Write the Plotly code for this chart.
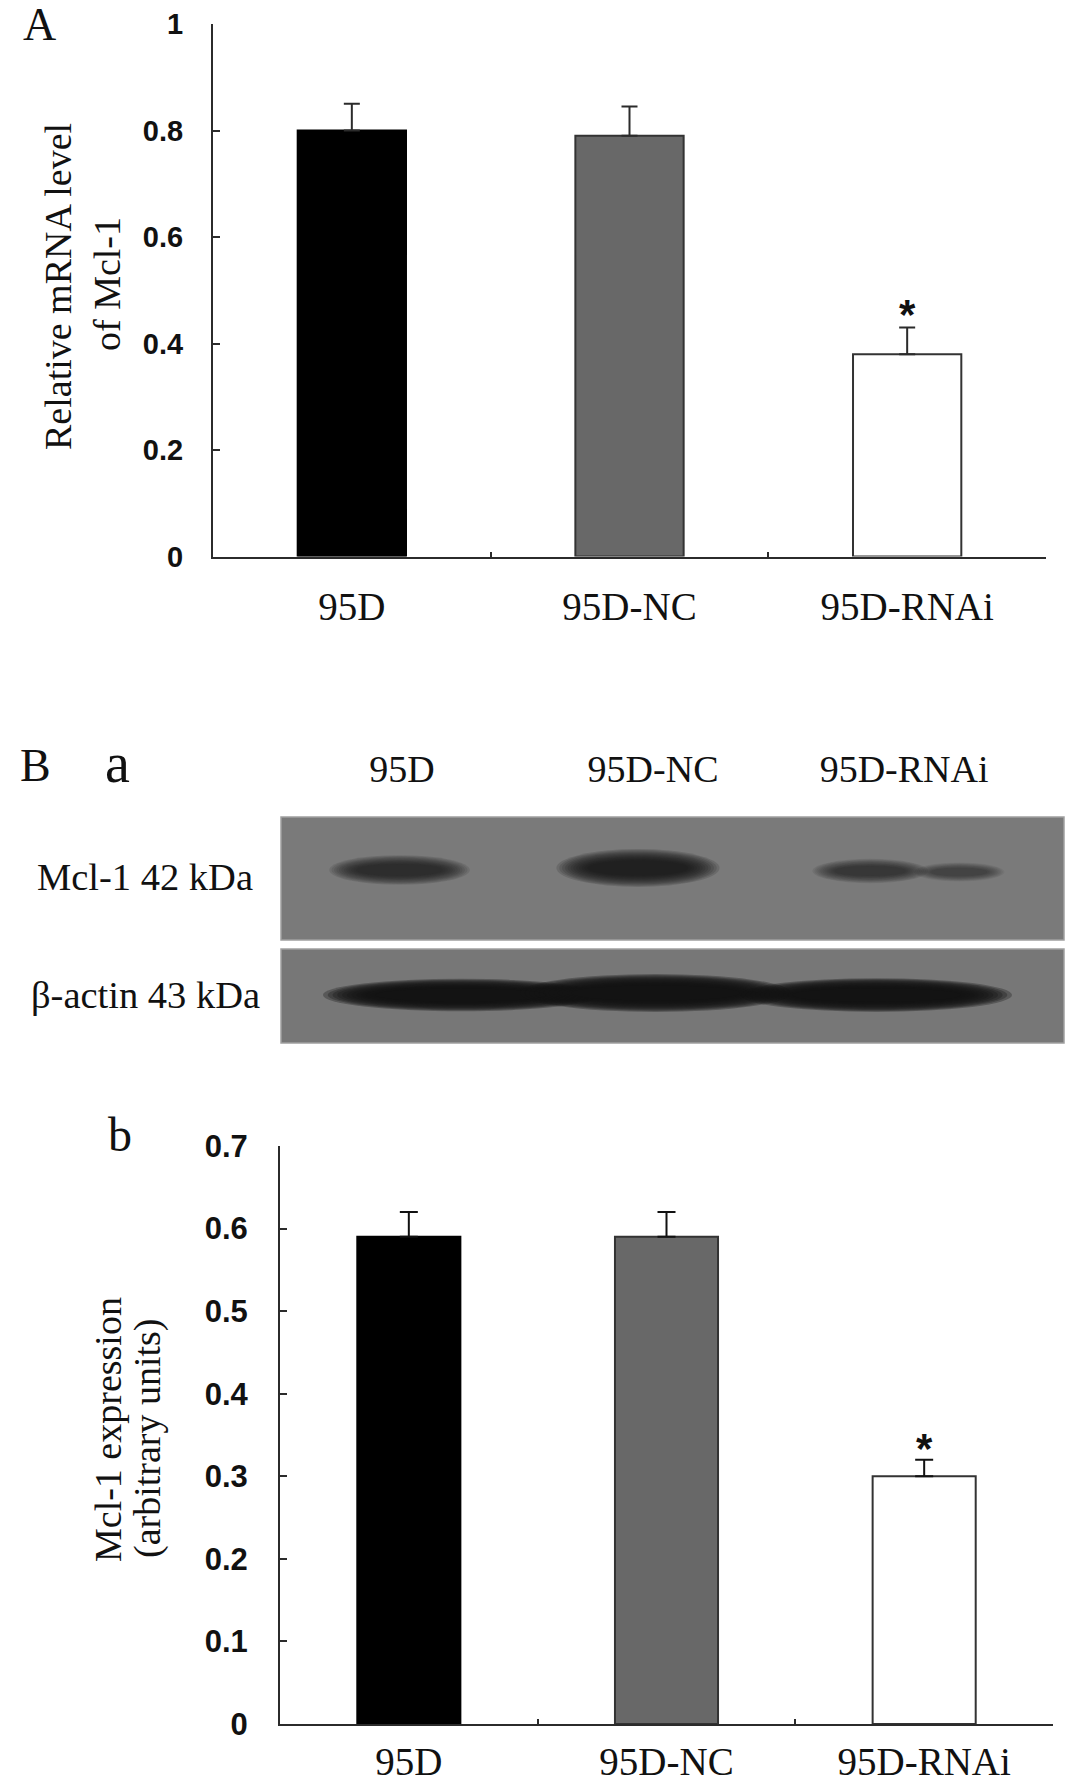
import plotly.graph_objects as go

# ---------------- data ----------------
categories = ["95D", "95D-NC", "95D-RNAi"]

# Panel A: relative mRNA level of Mcl-1
mrna_mean = [0.80, 0.79, 0.38]
mrna_err = [0.05, 0.055, 0.05]

# Panel B b: Mcl-1 expression (arbitrary units)
expr_mean = [0.59, 0.59, 0.30]
expr_err = [0.03, 0.03, 0.02]

# Panel B a: western blot, relative band darkness per lane
mcl1_band = [0.80, 1.00, 0.55]
actin_band = [1.00, 1.00, 1.00]

significant = [False, False, True]

y_ticks_a = [0, 0.2, 0.4, 0.6, 0.8, 1]
y_ticks_b = [0, 0.1, 0.2, 0.3, 0.4, 0.5, 0.6, 0.7]

# ---------------- layout helpers ----------------
W, H = 1087, 1786


def px_x(p):
    return p / W


def px_y(p):
    return 1 - p / H


bar_colors = ["#000000", "#686868", "#ffffff"]
bar_lines = ["#000000", "#333333", "#333333"]
serif = "Liberation Serif, Times New Roman, serif"
sans = "Liberation Sans, Arial, sans-serif"
axis_col = "#2b2b2b"
txt_col = "#111111"

fig = go.Figure()

# Panel A bars
fig.add_trace(go.Bar(
    x=categories, y=mrna_mean, xaxis="x", yaxis="y",
    width=0.39,
    marker=dict(color=bar_colors, line=dict(color=bar_lines, width=2)),
    error_y=dict(type="data", array=mrna_err, arrayminus=[0] * 3, symmetric=False,
                 color=axis_col, thickness=2, width=8),
    showlegend=False, hoverinfo="x+y",
))

# Panel B b bars
fig.add_trace(go.Bar(
    x=categories, y=expr_mean, xaxis="x2", yaxis="y2",
    width=0.40,
    marker=dict(color=bar_colors, line=dict(color=bar_lines, width=2)),
    error_y=dict(type="data", array=expr_err, arrayminus=[0] * 3, symmetric=False,
                 color=txt_col, thickness=2, width=9),
    showlegend=False, hoverinfo="x+y",
))

# invisible trace to activate blot axes
fig.add_trace(go.Scatter(x=[1, 2, 3], y=[None, None, None], xaxis="x3", yaxis="y3",
                         mode="markers", showlegend=False, hoverinfo="skip"))

shapes = []
# blot membranes (paper coordinates)
for (top, bot, col) in [(817, 940, "#7a7a7a"), (949, 1043, "#777777")]:
    shapes.append(dict(type="rect", xref="paper", yref="paper",
                       x0=px_x(281), x1=px_x(1064), y0=px_y(bot), y1=px_y(top),
                       fillcolor=col, line=dict(color="#a0a0a0", width=1.5),
                       layer="above"))


def add_band(xc, yc, w, h, strength, color="#161616"):
    L = 12
    for k in range(L):
        t = k / (L - 1)
        sx = w / 2 * (1.0 - 0.38 * t)
        sy = h / 2 * (1.35 - 0.8 * t)
        shapes.append(dict(type="circle", xref="x3", yref="y3",
                           x0=xc - sx, x1=xc + sx, y0=yc - sy, y1=yc + sy,
                           fillcolor=color, opacity=min(1.0, 0.11 * strength),
                           line=dict(width=0), layer="above"))


# Mcl-1 bands (lane index 1..3): style offsets / sizes
mcl1_style = [(-0.01, 173, 0.56, 22), (-0.06, 175, 0.65, 28), (-0.135, 172, 0.46, 18)]
for i, s in enumerate(mcl1_band):
    dx, yc, w, h = mcl1_style[i]
    add_band(i + 1 + dx, yc, w, h, s * 1.35)
# faint tail of RNAi band
add_band(3 + 0.22, 171, 0.36, 14, 0.5)

# beta-actin bands
actin_style = [(0.235, 48, 1.10, 24), (0.01, 50, 1.08, 28), (-0.11, 48, 1.08, 25)]
for i, s in enumerate(actin_band):
    dx, yc, w, h = actin_style[i]
    add_band(i + 1 + dx, yc, w, h, s * 2.8, color="#141414")

annotations = []
# significance stars
for xref, yref, means, errs, sh in [("x", "y", mrna_mean, mrna_err, -12),
                                     ("x2", "y2", expr_mean, expr_err, -14)]:
    for c, m, e, sig in zip(categories, means, errs, significant):
        if sig:
            annotations.append(dict(x=c, y=m + e, xref=xref, yref=yref, text="*",
                                    showarrow=False, yanchor="bottom", yshift=sh,
                                    font=dict(family=sans, size=42, color=txt_col,
                                              weight="bold")))

# y axis titles (one annotation per line)
for txt, x, y in [("Relative mRNA level", 58, 287), ("of Mcl-1", 107, 284),
                  ("Mcl-1 expression", 108, 1430), ("(arbitrary units)", 147, 1438)]:
    annotations.append(dict(x=px_x(x), y=px_y(y), xref="paper", yref="paper",
                            text=txt, textangle=-90, showarrow=False,
                            xanchor="center", yanchor="middle",
                            font=dict(family=serif, size=38, color=txt_col)))

# panel letters
for txt, x, y, size in [("A", 39, 24, 46), ("B", 35, 765, 46), ("a", 117, 763, 56),
                        ("b", 120, 1134, 48)]:
    annotations.append(dict(x=px_x(x), y=px_y(y), xref="paper", yref="paper",
                            text=txt, showarrow=False, xanchor="center", yanchor="middle",
                            font=dict(family=serif, size=size, color=txt_col)))

# blot row labels
for txt, y in [("Mcl-1 42 kDa", 877), ("β-actin 43 kDa", 995)]:
    annotations.append(dict(x=px_x(145), y=px_y(y), xref="paper", yref="paper",
                            text=txt, showarrow=False, xanchor="center", yanchor="middle",
                            font=dict(family=serif, size=38.5, color=txt_col)))

cat_axis = dict(type="category", showline=True, linecolor=axis_col, linewidth=2,
                ticks="inside", tickson="boundaries", ticklen=5, tickwidth=2,
                tickcolor=axis_col, showgrid=False, zeroline=False,
                tickfont=dict(family=serif, size=39, color=txt_col),
                range=[-0.5, 2.5], fixedrange=True)

val_axis = dict(showline=True, linecolor=axis_col, linewidth=2, ticks="inside",
                ticklen=7, tickwidth=2, tickcolor=axis_col, showgrid=False,
                zeroline=False, fixedrange=True)

fig.update_layout(
    width=W, height=H, margin=dict(l=0, r=0, t=0, b=0, autoexpand=False),
    paper_bgcolor="white", plot_bgcolor="white",
    xaxis=dict(cat_axis, domain=[px_x(213), px_x(1046)], anchor="y",
               ticklabelstandoff=15),
    yaxis=dict(val_axis, domain=[px_y(556.5), px_y(24)], anchor="x", range=[0, 1],
               tickvals=y_ticks_a, ticktext=[f"{v:g}" for v in y_ticks_a],
               ticklabelstandoff=22,
               tickfont=dict(family=sans, size=29, color=txt_col, weight="bold")),
    xaxis2=dict(cat_axis, domain=[px_x(280), px_x(1053)], anchor="y2",
                ticklabelstandoff=2),
    yaxis2=dict(val_axis, domain=[px_y(1724), px_y(1146)], anchor="x2", range=[0, 0.7],
                tickvals=y_ticks_b, ticktext=[f"{v:g}" for v in y_ticks_b],
                ticklabelstandoff=24,
                tickfont=dict(family=sans, size=31, color=txt_col, weight="bold")),
    xaxis3=dict(domain=[px_x(281), px_x(1064)], anchor="y3", range=[0.518, 3.637],
                side="top", tickvals=[1, 2, 3], ticktext=categories, showline=False,
                showgrid=False, zeroline=False, ticks="", ticklabelstandoff=26,
                tickfont=dict(family=serif, size=38, color=txt_col), fixedrange=True),
    yaxis3=dict(domain=[px_y(1043), px_y(817)], anchor="x3", range=[0, 226],
                showticklabels=False, showline=False, showgrid=False, zeroline=False,
                ticks="", fixedrange=True),
    shapes=shapes,
    annotations=annotations,
    bargap=0.2,
)

fig.write_html("out.html", config={"displayModeBar": False},
               post_script="document.body.style.margin='0';document.body.style.overflow='hidden';")
